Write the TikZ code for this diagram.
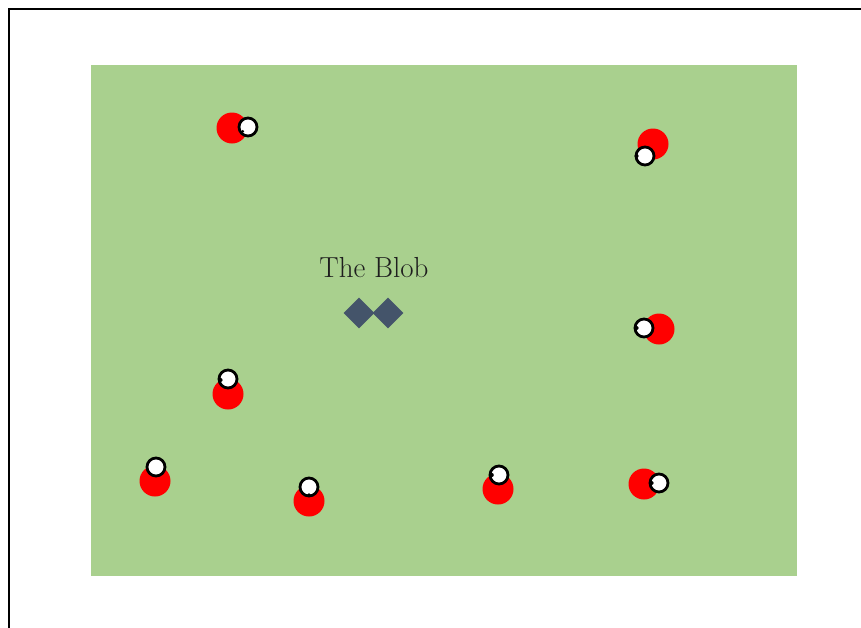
\documentclass[tikz,border=0pt]{standalone}
\usetikzlibrary{shapes.geometric}
\definecolor{field}{RGB}{169,208,142}
\definecolor{blobc}{RGB}{68,84,106}
\definecolor{txt}{RGB}{30,30,30}
\begin{document}
\begin{tikzpicture}[x=1pt,y=-1pt,
  body/.style={circle,fill=red,minimum size=31pt,inner sep=0pt},
  eyeball/.style={circle,fill=white,draw=black,line width=2.8pt,minimum size=18pt,inner sep=0pt},
  blobpart/.style={diamond,fill=blobc,minimum size=31pt,inner sep=0pt}]
\useasboundingbox (0,0) rectangle (861,627);
\fill[white] (0,0) rectangle (861,627);
\draw[line width=2pt] (9,640) -- (9,9) -- (870,9);
\fill[field] (91,65) rectangle (797,576);
% creatures: body then eye
\node[body] (b1) at (232,128) {};
\node[eyeball] (e1) at (248,127) {};
\node[body] (b2) at (653,144) {};
\node[eyeball] (e2) at (645,156) {};
\node[body] (b3) at (659,329) {};
\node[eyeball] (e3) at (644,328) {};
\node[body] (b4) at (228,394) {};
\node[eyeball] (e4) at (228,379) {};
\node[body] (b5) at (155,481) {};
\node[eyeball] (e5) at (156,467) {};
\node[body] (b6) at (309,501) {};
\node[eyeball] (e6) at (309,487) {};
\node[body] (b7) at (498,489) {};
\node[eyeball] (e7) at (499,475) {};
\node[body] (b8) at (644,484) {};
\node[eyeball] (e8) at (659,483) {};
% pupil hints
\fill[black] (e1.south west) ++(2,-3) circle (1.5);
\fill[black] (e2.west) ++(2,0) circle (2);
\fill[black] (e3.west) ++(3,0) circle (2);
\fill[black] (e4.west) ++(3,1) circle (2);
\fill[black] (e6.south) ++(0,-2.5) circle (1.8);
\fill[black] (e7.west) ++(3,0) circle (2.2);
\fill[black] (e8.west) ++(3,0) circle (2);
% the blob
\node[blobpart] (d1) at (359,313) {};
\node[blobpart] (d2) at (388,313) {};
\node[txt,font=\fontsize{29}{34}\selectfont] (lbl) at (374,268) {The Blob};
\end{tikzpicture}
\end{document}
